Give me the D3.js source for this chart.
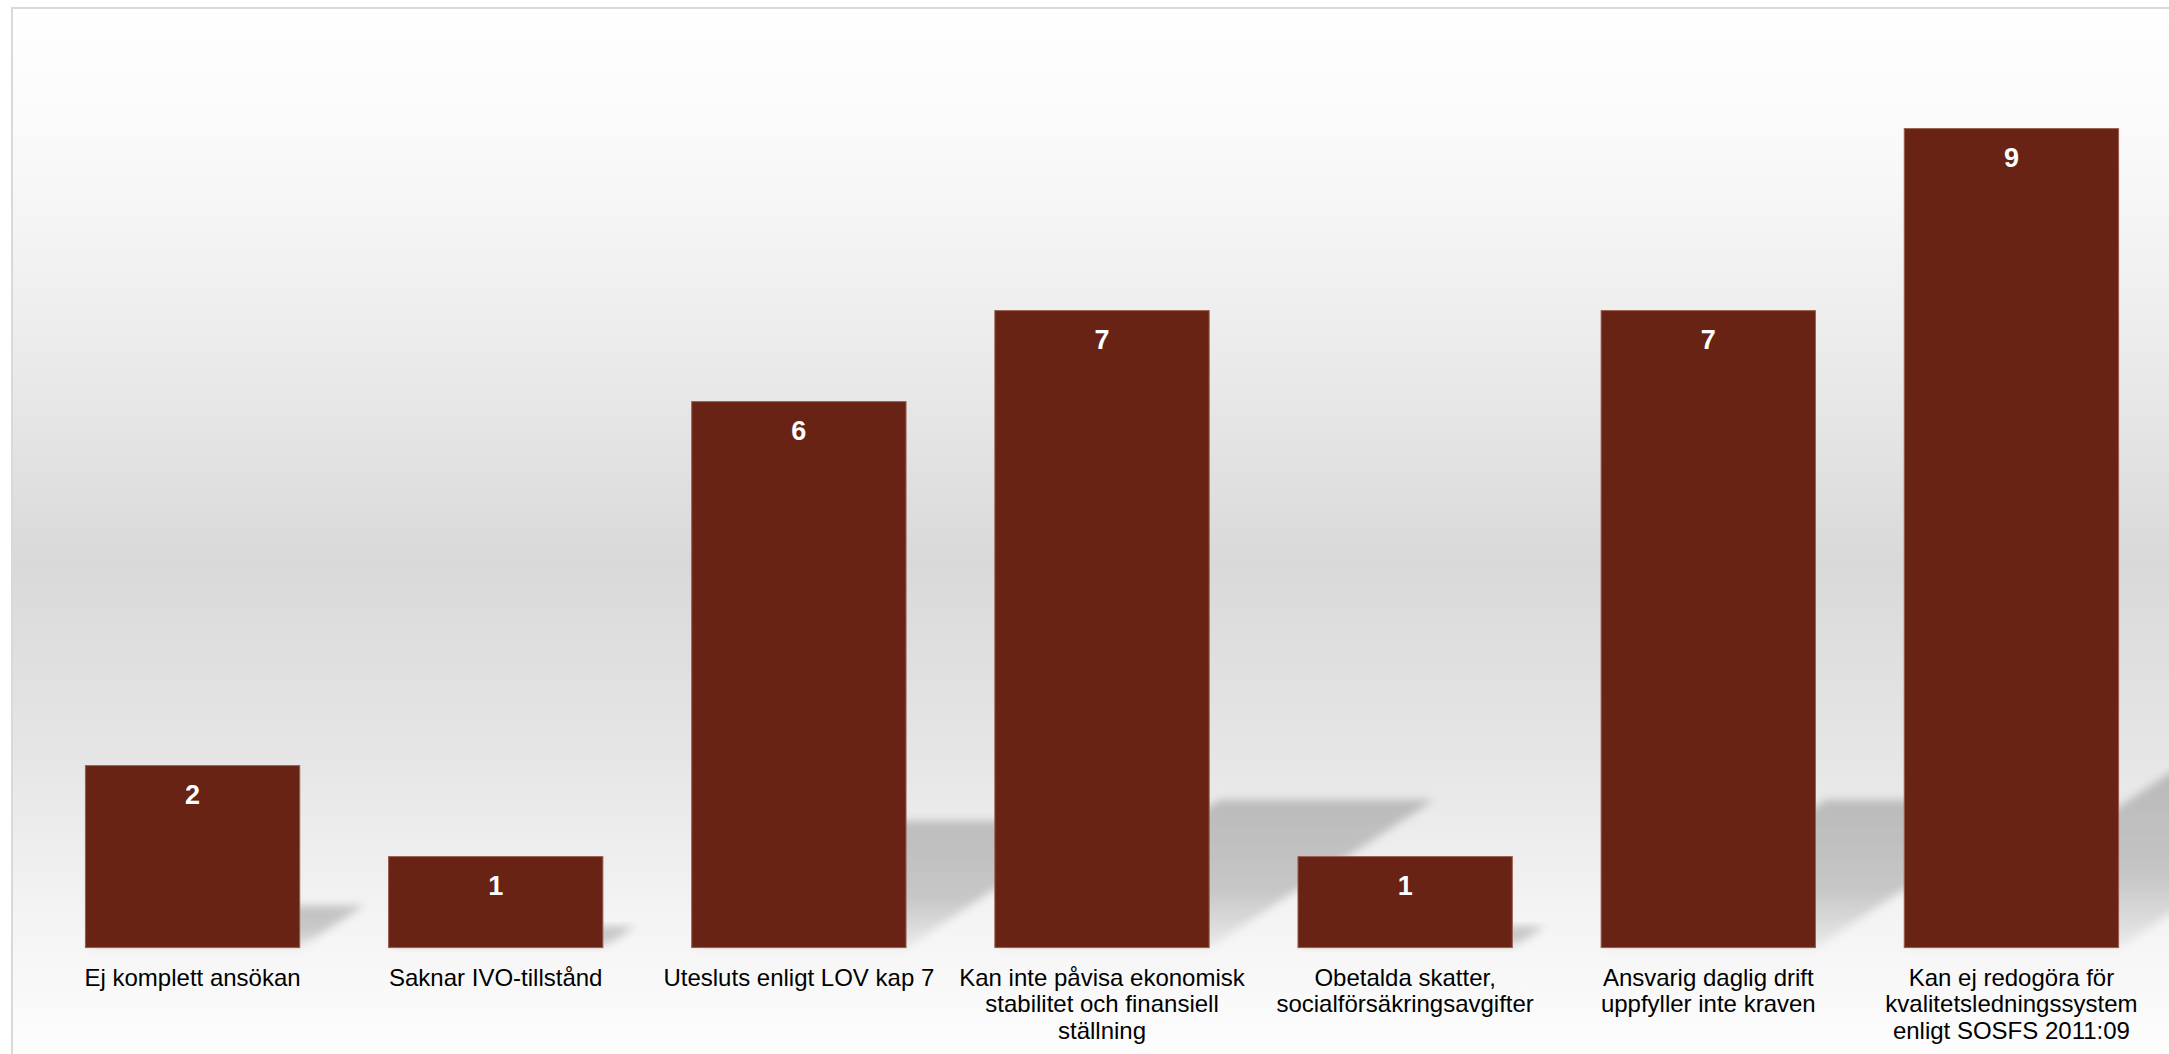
<!DOCTYPE html>
<html>
<head>
<meta charset="utf-8">
<script src="https://cdn.jsdelivr.net/npm/d3@7/dist/d3.min.js"></script>
<style>
body { margin: 0; background: #fff; }
text { font-family: "Liberation Sans", Arial, sans-serif; }
</style>
</head>
<body>
<svg width="2169" height="1054"></svg>
<script>
var categories = [
    "Ej komplett ansökan",
    "Saknar IVO-tillstånd",
    "Utesluts enligt LOV kap 7",
    "Kan inte påvisa ekonomisk stabilitet och finansiell ställning",
    "Obetalda skatter, socialförsäkringsavgifter",
    "Ansvarig daglig drift uppfyller inte kraven",
    "Kan ej redogöra för kvalitetsledningssystem enligt SOSFS 2011:09"
];
var values = [2, 1, 6, 7, 1, 7, 9];
var yDomain = [0, 10];

var data = categories.map((c, i) => ({cat: c, value: values[i]}));

var svg = d3.select("svg");
var defs = svg.append("defs");

// background gradient of the chart area
var bg = defs.append("linearGradient")
    .attr("id", "bg")
    .attr("gradientUnits", "userSpaceOnUse")
    .attr("x1", 0).attr("y1", 8).attr("x2", 0).attr("y2", 1054);
[[0, "#ffffff"], [0.14, "#f9f9f9"], [0.33, "#ebebeb"], [0.53, "#d9d9d9"], [0.72, "#e6e6e6"], [0.86, "#f3f3f3"], [1, "#fdfdfd"]]
    .forEach(s => bg.append("stop").attr("offset", s[0]).attr("stop-color", s[1]));

// shadow fade + blur
var sg = defs.append("linearGradient")
    .attr("id", "shadowFade")
    .attr("x1", 0).attr("y1", 0).attr("x2", 0).attr("y2", 1);
sg.append("stop").attr("offset", 0).attr("stop-color", "#000").attr("stop-opacity", 0.2);
sg.append("stop").attr("offset", 0.6).attr("stop-color", "#000").attr("stop-opacity", 0.18);
sg.append("stop").attr("offset", 1).attr("stop-color", "#000").attr("stop-opacity", 0.05);

defs.append("filter")
    .attr("id", "blur")
    .attr("x", "-20%").attr("y", "-20%").attr("width", "140%").attr("height", "140%")
    .append("feGaussianBlur").attr("stdDeviation", 4);

svg.append("rect")
    .attr("x", 12).attr("y", 8)
    .attr("width", 2200).attr("height", 1100)
    .attr("fill", "url(#bg)")
    .attr("stroke", "#d9d9d9")
    .attr("stroke-width", 2);

var x = d3.scaleBand()
    .domain(categories)
    .range([41, 2163])
    .paddingInner(0.293)
    .paddingOuter(0.1465);

var y = d3.scaleLinear().domain(yDomain).range([947.6, 37.6]);

// perspective shadows
var shearX = 0.353, shearY = 0.232;
svg.append("g")
    .selectAll("path")
    .data(data)
    .enter()
    .append("path")
    .attr("fill", "url(#shadowFade)")
    .attr("filter", "url(#blur)")
    .attr("d", d => {
        var xl = x(d.cat), xr = xl + x.bandwidth();
        var b = y(0), h = y(0) - y(d.value);
        var dx = h * shearX, dy = h * shearY;
        return "M" + xl + "," + b + "L" + xr + "," + b +
            "L" + (xr + dx) + "," + (b - dy) + "L" + (xl + dx) + "," + (b - dy) + "Z";
    });

svg.append("g")
    .selectAll("rect")
    .data(data)
    .enter()
    .append("rect")
    .attr("x", d => x(d.cat))
    .attr("y", d => y(d.value))
    .attr("width", x.bandwidth())
    .attr("height", d => y(0) - y(d.value))
    .attr("fill", "#682315")
    .attr("stroke", "#9a5c4e")
    .attr("stroke-width", 1);

svg.append("g")
    .selectAll("text")
    .data(data)
    .enter()
    .append("text")
    .attr("x", d => x(d.cat) + x.bandwidth() / 2)
    .attr("y", d => y(d.value) + 38)
    .attr("text-anchor", "middle")
    .attr("fill", "#fff")
    .attr("font-weight", "bold")
    .attr("font-size", "27px")
    .text(d => d.value);

var labels = svg.append("g")
    .selectAll("text")
    .data(categories)
    .enter()
    .append("text")
    .attr("x", d => x(d) + x.bandwidth() / 2)
    .attr("y", 986)
    .attr("text-anchor", "middle")
    .attr("fill", "#000")
    .attr("font-size", "24px")
    .text(d => d);

labels.call(wrap, 292);

function wrap(sel, width) {
    sel.each(function() {
        var t = d3.select(this);
        var words = t.text().split(/\s+/);
        var cx = t.attr("x"), cy = t.attr("y");
        t.text(null);
        var line = [], lineNo = 0;
        var tspan = t.append("tspan").attr("x", cx).attr("y", cy);
        words.forEach(w => {
            line.push(w);
            tspan.text(line.join(" "));
            if (tspan.node().getComputedTextLength() > width && line.length > 1) {
                line.pop();
                tspan.text(line.join(" "));
                line = [w];
                lineNo++;
                tspan = t.append("tspan").attr("x", cx).attr("y", cy)
                    .attr("dy", (lineNo * 1.1) + "em").text(w);
            }
        });
    });
}
</script>
</body>
</html>
